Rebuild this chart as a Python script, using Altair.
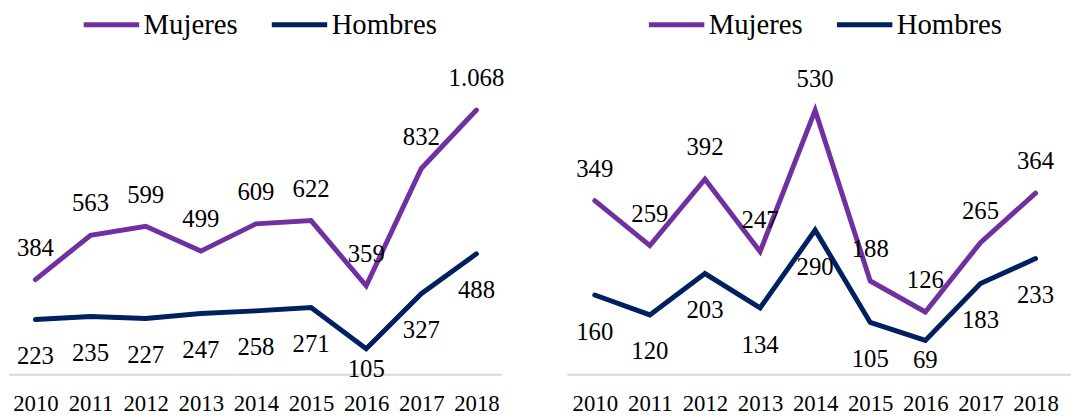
import altair as alt
import pandas as pd

years = ["2010", "2011", "2012", "2013", "2014", "2015", "2016", "2017", "2018"]
series = ["Mujeres", "Hombres"]
colors = ["#7030A0", "#002060"]

left_mujeres = [384, 563, 599, 499, 609, 622, 359, 832, 1068]
left_hombres = [223, 235, 227, 247, 258, 271, 105, 327, 488]
right_mujeres = [349, 259, 392, 247, 530, 188, 126, 265, 364]
right_hombres = [160, 120, 203, 134, 290, 105, 69, 183, 233]

FONT = "Liberation Serif"


def to_long(m, h):
    rows = []
    for yr, a, b in zip(years, m, h):
        rows.append({"year": yr, "serie": "Mujeres", "value": a})
        rows.append({"year": yr, "serie": "Hombres", "value": b})
    return pd.DataFrame(rows)


def panel(df, ymax, width, pad, legend_x, rule_x1, rule_x2):
    x = alt.X(
        "year:O",
        scale=alt.Scale(type="point", padding=pad),
        axis=alt.Axis(
            title=None, labelAngle=0, domain=False, ticks=False, grid=False,
            labelFont=FONT, labelFontSize=23, labelColor="black",
            labelPadding=29, labelBaseline="middle",
        ),
    )
    y = alt.Y("value:Q", scale=alt.Scale(domain=[0, ymax], nice=False), axis=None)
    base = alt.Chart(df).transform_calculate(
        label="replace(format(datum.value, ','), ',', '.')"
    )
    rule = alt.Chart(pd.DataFrame({"z": [0]})).mark_rule(
        color="#D9D9D9", strokeWidth=2
    ).encode(y=alt.Y("z:Q", scale=alt.Scale(domain=[0, ymax], nice=False), axis=None),
             x=alt.value(rule_x1), x2=alt.value(rule_x2))
    lines = base.mark_line(strokeWidth=5, strokeCap="round").encode(
        x=x, y=y,
        color=alt.Color(
            "serie:N",
            scale=alt.Scale(domain=series, range=colors),
            legend=alt.Legend(
                title=None, orient="none", legendX=legend_x, legendY=0,
                direction="horizontal", symbolType="M-4,0L4,0", symbolSize=196,
                symbolStrokeWidth=5, labelFont=FONT, labelFontSize=29,
                labelColor="black", labelOffset=18, columnPadding=23, padding=0,
            ),
        ),
    )
    txt = dict(font=FONT, fontSize=25, color="black", baseline="middle", align="center")
    lab_m = base.transform_filter("datum.serie == 'Mujeres'").mark_text(dy=-32, **txt).encode(
        x=x, y=y, text="label:N")
    h = base.transform_filter("datum.serie == 'Hombres'").transform_joinaggregate(vmin="min(value)")
    lab_h = h.transform_filter("datum.value > datum.vmin").mark_text(dy=37, **txt).encode(
        x=x, y=y, text="label:N")
    lab_hmin = h.transform_filter("datum.value == datum.vmin").mark_text(dy=20, **txt).encode(
        x=x, y=y, text="label:N")
    return alt.layer(rule, lines, lab_m, lab_h, lab_hmin).properties(width=width, height=368.5)


left = panel(to_long(left_mujeres, left_hombres), 1471, 493, 0.4257, 86, -3, 495)
right = panel(to_long(right_mujeres, right_hombres), 731, 501, 0.5, 96, 0, 509)

chart = (
    alt.hconcat(left, right, spacing=62)
    .resolve_scale(color="independent", x="independent", y="independent")
    .resolve_legend(color="independent")
    .properties(padding=0, background="white")
    .configure_view(stroke=None)
)

chart.save("out.html", embed_options={"renderer": "svg", "actions": False})
